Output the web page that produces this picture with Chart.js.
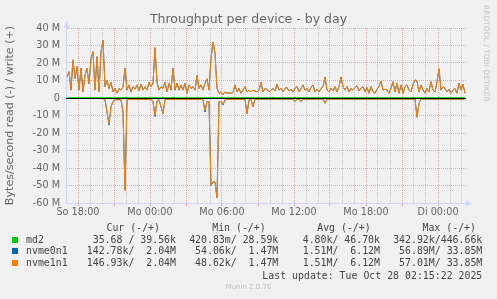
<!DOCTYPE html>
<html>
<head>
<meta charset="utf-8">
<title>Throughput per device - by day</title>
<script src="https://cdn.jsdelivr.net/npm/chart.js@4.4.1/dist/chart.umd.min.js"></script>
<style>
  html, body { margin: 0; padding: 0; background: #f0f0f0; }
  #wrap { position: relative; width: 497px; height: 299px; overflow: hidden; }
  #chart { position: absolute; left: 0; top: 0; }
  .mono { position: absolute; font-family: "DejaVu Sans Mono", monospace; font-size: 9.9px; line-height: 12px; color: #444; white-space: pre; }
  .box { position: absolute; width: 6px; height: 6px; }
  #rrd { position: absolute; left: 482px; top: 5px; writing-mode: vertical-rl; font-family: "DejaVu Sans", sans-serif; font-size: 7.5px; color: #c4c4c4; white-space: nowrap; }
  #munin { position: absolute; left: 0; width: 497px; top: 283px; text-align: center; font-family: "DejaVu Sans", sans-serif; font-size: 7px; color: #c0c0c0; }
</style>
</head>
<body>
<div id="wrap">
  <canvas id="chart" width="497" height="299"></canvas>
  <div id="legend"></div>
  <div id="rrd">RRDTOOL / TOBI OETIKER</div>
  <div id="munin">Munin 2.0.76</div>
</div>
<script>
// one sample every 10 minutes, first one at Sunday 17:05 (hours relative to So 18:00)
const startHour = -11 / 12;
const stepHours = 1 / 6;

// x axis labels
const tickHours = [0, 6, 12, 18, 24, 30];
const tickLabels = ['So 18:00', 'Mo 00:00', 'Mo 06:00', 'Mo 12:00', 'Mo 18:00', 'Di 00:00'];

// write (+) in MB/s
const writeOrange = [
  12, 15, 4.5, 22, 11, 18, 4.5, 17, 3.5, 13,
  17, 8, 22.5, 26.5, 4.5, 23.6, 3.5, 26.5, 33, 6.5,
  10, 5.5, 9, 3.5, 5.5, 2.7, 5.5, 4.5, 6.5, 17,
  4.5, 7.5, 3.5, 6.5, 5, 7.5, 4, 8, 4.5, 6.5,
  4.5, 9, 6.5, 8.5, 29, 9, 4.5, 6.5, 5.5, 9,
  3.5, 8.5, 4.5, 17, 4.5, 8.5, 4.5, 7.5, 4.5, 8.5,
  2.7, 7.5, 5.5, 6.5, 4.5, 13, 5.5, 7.5, 4.5, 8.5,
  11, 4.5, 22.7, 32, 25.5, 5.5, 2.7, 3.5, 2, 3.5,
  2.7, 3, 2.7, 3.2, 7.5, 3.5, 5.5, 2.7, 4.5, 6.5,
  3.5, 4.5, 3.5, 4.5, 4, 3.5, 4.5, 9, 3.5, 5.5,
  5, 3.5, 4.5, 5.5, 4, 7.8, 4.5, 5.5, 3.5, 5.5,
  6, 4, 5, 3.5, 5.5, 6.5, 3.5, 5.5, 7.5, 4.5,
  5.5, 3.5, 6, 7.5, 3.5, 5, 3.5, 5.5, 6.5, 12,
  4.5, 3.5, 5.5, 4, 6.5, 3.5, 6.5, 12, 6.5, 4.5,
  6.5, 3.5, 5.5, 4.5, 6, 7, 4, 5.5, 6.5, 3.5,
  6, 2.7, 6.5, 3.5, 2.7, 5, 6.5, 9.7, 4.5, 5,
  4.5, 2.7, 5.5, 9.3, 3.5, 8.5, 2.7, 7.5, 2.7, 6.5,
  7.5, 4.5, 3.5, 7.8, 10.3, 9.7, 3.5, 7.5, 4.5, 2.7,
  5.5, 3.5, 9.3, 4.5, 3.5, 9.3, 17, 4.5, 6.5, 5.5,
  3.5, 5, 2.7, 4.5, 5.5, 2.7, 8.5, 4.5, 7.8, 2.7
];
const writeBlue = [
  12, 15, 4.5, 21.5, 11, 18, 4.5, 17, 3.5, 13,
  17, 8, 22.5, 26.5, 4.5, 23.6, 3.5, 26.5, 33, 6.5,
  10, 5.5, 9, 3.5, 5.5, 2.7, 5.5, 4.5, 6.5, 17,
  4.5, 7.5, 3.5, 6.5, 5, 7.5, 4, 8, 4.5, 6.5,
  4.5, 9, 6.5, 8.5, 28.5, 9, 4.5, 6.5, 5.5, 9,
  3.5, 8.5, 4.5, 17, 4.5, 8.5, 4.5, 7.5, 4.5, 8.5,
  2.7, 7.5, 5.5, 6.5, 4.5, 13, 5.5, 7.5, 4.5, 8.5,
  11, 4.5, 22.7, 32, 25.5, 5.5, 2.7, 3.5, 2, 3.5,
  2.7, 3, 2.7, 3.2, 7.5, 3.5, 5.5, 2.7, 4.5, 6.5,
  3.5, 4.5, 3.5, 4.5, 4, 3.5, 4.5, 9, 3.5, 5.5,
  5, 3.5, 4.5, 5.5, 4, 7.8, 4.5, 5.5, 3.5, 5.5,
  6, 4, 5, 3.5, 5.5, 6.5, 3.5, 5.5, 7.5, 4.5,
  5.5, 3.5, 6, 7.5, 3.5, 5, 3.5, 5.5, 6.5, 12,
  4.5, 3.5, 5.5, 4, 6.5, 3.5, 6.5, 12, 6.5, 4.5,
  6.5, 3.5, 5.5, 4.5, 6, 7, 4, 5.5, 6.5, 3.5,
  6, 2.7, 6.5, 3.5, 2.7, 5, 6.5, 9.7, 4.5, 5,
  4.5, 2.7, 5.5, 9.3, 3.5, 8.5, 2.7, 7.5, 2.7, 6.5,
  7.5, 4.5, 3.5, 7.8, 10.3, 9.7, 3.5, 7.5, 4.5, 2.7,
  5.5, 3.5, 9.3, 4.5, 3.5, 9.3, 16.5, 4.5, 6.5, 5.5,
  3.5, 5, 2.7, 4.5, 5.5, 2.7, 8.5, 4.5, 7.8, 2.7
];
const writeGreen = [
  0.03, 0.03, 0.03, 0.03, 0.03, 0.03, 0.03, 0.03, 0.03, 0.03,
  0.03, 0.03, 0.03, 0.03, 0.03, 0.03, 0.03, 0.03, 0.03, 0.03,
  0.03, 0.03, 0.03, 0.03, 0.03, 0.03, 0.03, 0.03, 0.03, 0.45,
  0.03, 0.03, 0.03, 0.03, 0.03, 0.03, 0.03, 0.03, 0.03, 0.03,
  0.03, 0.03, 0.03, 0.03, 0.03, 0.03, 0.03, 0.03, 0.03, 0.03,
  0.03, 0.03, 0.03, 0.4, 0.03, 0.03, 0.03, 0.03, 0.03, 0.03,
  0.03, 0.03, 0.03, 0.03, 0.03, 0.03, 0.03, 0.03, 0.03, 0.03,
  0.03, 0.03, 0.03, 0.4, 0.03, 0.03, 0.03, 0.03, 0.03, 0.03,
  0.03, 0.03, 0.03, 0.03, 0.03, 0.03, 0.03, 0.03, 0.03, 0.03,
  0.03, 0.03, 0.03, 0.03, 0.03, 0.03, 0.03, 0.03, 0.03, 0.03,
  0.03, 0.03, 0.03, 0.35, 0.03, 0.03, 0.03, 0.03, 0.03, 0.03,
  0.03, 0.03, 0.03, 0.03, 0.4, 0.03, 0.03, 0.03, 0.03, 0.03,
  0.03, 0.03, 0.03, 0.03, 0.03, 0.03, 0.03, 0.03, 0.03, 0.03,
  0.03, 0.03, 0.03, 0.03, 0.03, 0.03, 0.03, 0.03, 0.03, 0.03,
  0.03, 0.03, 0.03, 0.03, 0.03, 0.03, 0.03, 0.03, 0.03, 0.03,
  0.03, 0.03, 0.03, 0.03, 0.03, 0.03, 0.03, 0.03, 0.03, 0.03,
  0.03, 0.03, 0.03, 0.03, 0.03, 0.03, 0.03, 0.03, 0.03, 0.03,
  0.03, 0.03, 0.03, 0.03, 0.03, 0.03, 0.03, 0.03, 0.03, 0.03,
  0.03, 0.03, 0.03, 0.03, 0.03, 0.03, 0.45, 0.03, 0.03, 0.03,
  0.03, 0.03, 0.03, 0.03, 0.03, 0.03, 0.03, 0.03, 0.03, 0.03
];

// read (-) in MB/s, drawn below zero
const readOrange = [
  0.3, 0.3, 0.3, 0.3, 0.3, 0.3, 0.3, 0.3, 0.3, 0.3,
  0.3, 0.3, 0.3, 0.3, 0.3, 0.3, 0.3, 0.3, 0.3, 1,
  8, 14.5, 5, 2, 1, 1, 1, 1, 8, 53,
  1, 0.8, 0.8, 0.8, 0.8, 0.8, 0.8, 0.8, 0.8, 0.8,
  0.8, 0.8, 0.8, 2, 10, 1.5, 1, 5, 9, 1,
  0.8, 0.8, 0.8, 0.8, 0.8, 0.8, 0.8, 0.8, 0.8, 0.8,
  0.8, 0.8, 0.8, 0.8, 0.8, 0.8, 0.8, 0.8, 1, 7,
  2, 2, 50, 48, 48, 57, 2, 2, 3.5, 1,
  0.8, 0.8, 0.8, 0.8, 0.8, 0.8, 0.8, 0.8, 0.8, 0.8,
  9, 1, 0.8, 5, 0.8, 0.6, 0.6, 0.6, 0.6, 0.6,
  0.6, 0.6, 0.6, 0.6, 0.6, 0.6, 0.6, 0.6, 0.6, 0.6,
  0.6, 0.6, 0.6, 0.6, 2, 0.6, 0.6, 2, 0.6, 0.6,
  0.6, 0.6, 0.6, 0.6, 0.6, 0.6, 0.6, 0.6, 0.6, 3,
  0.6, 0.6, 0.6, 0.6, 0.6, 0.6, 0.6, 0.6, 0.6, 0.6,
  0.6, 0.6, 0.6, 0.6, 0.6, 0.6, 0.6, 0.6, 0.6, 0.6,
  0.6, 0.6, 0.6, 0.6, 0.6, 0.6, 0.6, 0.6, 0.6, 0.6,
  0.6, 0.6, 0.6, 0.6, 0.6, 0.6, 0.6, 0.6, 0.6, 0.6,
  0.6, 0.6, 0.6, 0.6, 0.6, 11, 3, 0.6, 0.6, 0.6,
  0.6, 0.6, 0.6, 0.6, 0.6, 0.6, 0.6, 0.6, 0.6, 0.6,
  0.6, 0.6, 0.6, 0.6, 0.6, 0.6, 0.6, 0.6, 0.6, 0.6
];
const readBlue = [
  0.3, 0.3, 0.3, 0.3, 0.3, 0.3, 0.3, 0.3, 0.3, 0.3,
  0.3, 0.3, 0.3, 0.3, 0.3, 0.3, 0.3, 0.3, 0.3, 1,
  8, 15.5, 5, 2, 1, 1, 1, 1, 8, 52.5,
  1, 0.8, 0.8, 0.8, 0.8, 0.8, 0.8, 0.8, 0.8, 0.8,
  0.8, 0.8, 0.8, 2, 10.7, 1.5, 1, 5, 9, 1,
  0.8, 0.8, 0.8, 0.8, 0.8, 0.8, 0.8, 0.8, 0.8, 0.8,
  0.8, 0.8, 0.8, 0.8, 0.8, 0.8, 0.8, 0.8, 1, 8,
  2, 2, 50, 48, 48, 56.9, 2, 2, 4, 1,
  0.8, 0.8, 0.8, 0.8, 0.8, 0.8, 0.8, 0.8, 0.8, 0.8,
  9, 1, 0.8, 5, 0.8, 0.6, 0.6, 0.6, 0.6, 0.6,
  0.6, 0.6, 0.6, 0.6, 0.6, 0.6, 0.6, 0.6, 0.6, 0.6,
  0.6, 0.6, 0.6, 0.6, 2, 0.6, 0.6, 2, 0.6, 0.6,
  0.6, 0.6, 0.6, 0.6, 0.6, 0.6, 0.6, 0.6, 0.6, 3,
  0.6, 0.6, 0.6, 0.6, 0.6, 0.6, 0.6, 0.6, 0.6, 0.6,
  0.6, 0.6, 0.6, 0.6, 0.6, 0.6, 0.6, 0.6, 0.6, 0.6,
  0.6, 0.6, 0.6, 0.6, 0.6, 0.6, 0.6, 0.6, 0.6, 0.6,
  0.6, 0.6, 0.6, 0.6, 0.6, 0.6, 0.6, 0.6, 0.6, 0.6,
  0.6, 0.6, 0.6, 0.6, 0.6, 11, 3, 0.6, 0.6, 0.6,
  0.6, 0.6, 0.6, 0.6, 0.6, 0.6, 0.6, 0.6, 0.6, 0.6,
  0.6, 0.6, 0.6, 0.6, 0.6, 0.6, 0.6, 0.6, 0.6, 0.6
];
const readGreen = writeGreen.map(() => 0.005);

// legend table
const legendNames = ['md2', 'nvme0n1', 'nvme1n1'];
const legendColors = ['#00cc00', '#0066b3', '#ff8000'];
const legendCur = ['35.68 / 39.56k', '142.78k/  2.04M', '146.93k/  2.04M'];
const legendMin = ['420.83m/ 28.59k', '54.06k/  1.47M', '48.62k/  1.47M'];
const legendAvg = ['4.80k/ 46.70k', '1.51M/  6.12M', '1.51M/  6.12M'];
const legendMax = ['342.92k/446.66k', '56.89M/ 33.85M', '57.01M/ 33.85M'];
const lastUpdate = 'Last update: Tue Oct 28 02:15:22 2025';

const sampleHours = writeOrange.map((_, i) => startHour + i * stepHours);
const toPoints = (arr, sign) => arr.map((v, i) => ({ x: sampleHours[i], y: sign * v }));

const majorGrid = 'rgba(222, 79, 79, 0.45)';
const minorGrid = 'rgba(143, 143, 143, 0.45)';
const axisColor = '#cfd6f8';
const fontColor = '#666';

function line(label, data, color, order) {
    return {
        label: label,
        data: data,
        borderColor: color,
        borderWidth: 1,
        pointRadius: 0,
        tension: 0,
        fill: false,
        order: order
    };
}

// zero line on top of the data plus the little axis arrows
const muninExtras = {
    id: 'muninExtras',
    afterDatasetsDraw(chart) {
        const { ctx, chartArea, scales } = chart;
        const y0 = Math.round(scales.y.getPixelForValue(0)) + 0.5;
        ctx.save();
        ctx.strokeStyle = '#000';
        ctx.lineWidth = 1;
        ctx.beginPath();
        ctx.moveTo(chartArea.left, y0);
        ctx.lineTo(chartArea.right, y0);
        ctx.stroke();
        ctx.restore();
    },
    afterDraw(chart) {
        const { ctx, chartArea } = chart;
        const l = chartArea.left + 0.5, t = chartArea.top, r = chartArea.right, b = chartArea.bottom + 0.5;
        ctx.save();
        ctx.fillStyle = axisColor;
        ctx.beginPath();
        ctx.moveTo(l, t - 6.5);
        ctx.lineTo(l - 3, t);
        ctx.lineTo(l + 3, t);
        ctx.closePath();
        ctx.fill();
        ctx.beginPath();
        ctx.moveTo(r + 6.5, b);
        ctx.lineTo(r, b - 3);
        ctx.lineTo(r, b + 3);
        ctx.closePath();
        ctx.fill();
        ctx.restore();
    }
};

new Chart(document.getElementById('chart'), {
    type: 'line',
    data: {
        datasets: [
            line('md2', toPoints(writeGreen, 1), legendColors[0], 3),
            line('md2 read', toPoints(readGreen, -1), legendColors[0], 3),
            line('nvme0n1', toPoints(writeBlue, 1), legendColors[1], 2),
            line('nvme0n1 read', toPoints(readBlue, -1), legendColors[1], 2),
            line('nvme1n1', toPoints(writeOrange, 1), legendColors[2], 1),
            line('nvme1n1 read', toPoints(readOrange, -1), legendColors[2], 1)
        ]
    },
    options: {
        responsive: false,
        animation: false,
        events: [],
        layout: { padding: 0 },
        scales: {
            x: {
                type: 'linear',
                min: -1,
                max: 32 + 1 / 3,
                afterFit: (s) => { s.height = 96; },
                grid: {
                    color: (c) => c.tick.value % 3 === 0 ? majorGrid : minorGrid,
                    drawTicks: true,
                    tickLength: 3,
                    tickColor: (c) => c.tick.value % 3 === 0 ? majorGrid : 'rgba(0,0,0,0)'
                },
                border: { color: axisColor, width: 1, dash: [1, 1] },
                ticks: {
                    stepSize: 1,
                    includeBounds: false,
                    autoSkip: false,
                    maxRotation: 0,
                    padding: 1,
                    color: fontColor,
                    font: { family: 'DejaVu Sans', size: 9.7 },
                    callback: (v) => {
                        const k = tickHours.indexOf(v);
                        return k >= 0 ? tickLabels[k] : '';
                    }
                }
            },
            y: {
                min: -60,
                max: 40,
                afterFit: (s) => { s.width = 66; },
                grid: {
                    color: (c) => c.tick.value % 10 === 0 ? majorGrid : minorGrid,
                    drawTicks: false
                },
                border: { color: axisColor, width: 1, dash: [1, 1] },
                ticks: {
                    stepSize: 5,
                    padding: 6,
                    color: fontColor,
                    font: { family: 'DejaVu Sans', size: 9.7 },
                    callback: (v) => v % 10 !== 0 ? '' : (v === 0 ? '0' : v + ' M')
                },
                title: {
                    display: true,
                    text: 'Bytes/second read (-) / write (+)',
                    color: fontColor,
                    font: { family: 'DejaVu Sans', size: 11.1 },
                    padding: { top: 3.4, bottom: 0 }
                }
            },
            yRight: {
                position: 'right',
                min: 0,
                max: 1,
                afterFit: (s) => { s.width = 31; },
                grid: { display: false, drawTicks: false },
                border: { display: false },
                ticks: { display: false }
            }
        },
        plugins: {
            legend: { display: false },
            tooltip: { enabled: false },
            title: {
                display: true,
                text: 'Throughput per device - by day',
                color: fontColor,
                font: { family: 'DejaVu Sans', size: 12.5, weight: 'normal' },
                padding: { top: 12, bottom: 1 }
            }
        }
    },
    plugins: [muninExtras]
});

// Munin style legend table below the graph
const legend = document.getElementById('legend');
function cell(text, right, top) {
    const d = document.createElement('div');
    d.className = 'mono';
    d.textContent = text;
    d.style.right = (497 - right) + 'px';
    d.style.top = top + 'px';
    legend.appendChild(d);
}
const headerTop = 221.5;
cell('Cur (-/+)', 160, headerTop);
cell('Min (-/+)', 265.7, headerTop);
cell('Avg (-/+)', 370.7, headerTop);
cell('Max (-/+)', 476, headerTop);
legendNames.forEach((name, i) => {
    const top = 233.8 + i * 11.65;
    const box = document.createElement('div');
    box.className = 'box';
    box.style.left = '12px';
    box.style.top = (top + 3) + 'px';
    box.style.background = legendColors[i];
    legend.appendChild(box);
    const n = document.createElement('div');
    n.className = 'mono';
    n.textContent = name;
    n.style.left = '26px';
    n.style.top = top + 'px';
    legend.appendChild(n);
    cell(legendCur[i], 176, top);
    cell(legendMin[i], 278.3, top);
    cell(legendAvg[i], 380, top);
    cell(legendMax[i], 482.3, top);
});
cell(lastUpdate, 482.3, 269.5);
</script>
</body>
</html>
